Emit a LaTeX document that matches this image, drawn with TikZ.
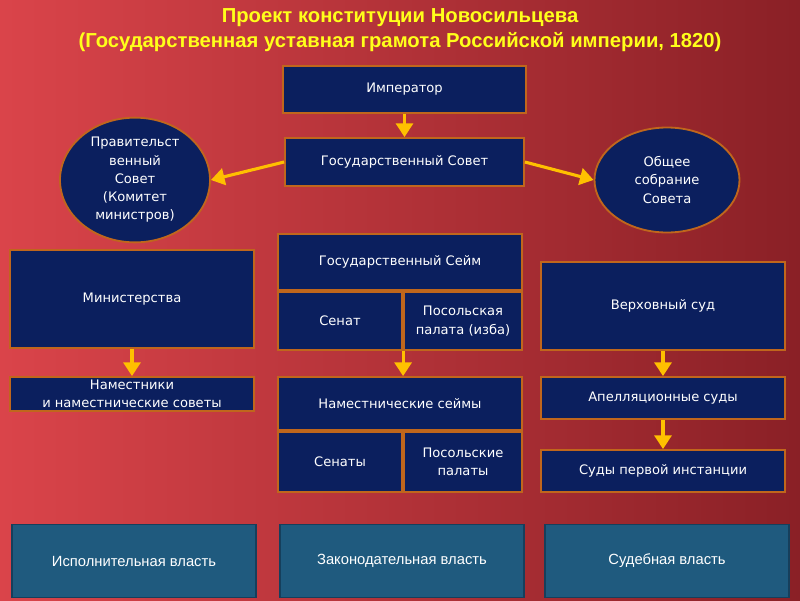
\documentclass[tikz,border=0pt]{standalone}
\usepackage{fontspec}
\setmainfont{Liberation Sans}
\newfontfamily\boxfont{DejaVu Sans}
\usetikzlibrary{arrows.meta,positioning,shapes.geometric,calc}
\definecolor{navy}{HTML}{0B1F5E}
\definecolor{rim}{HTML}{C0661C}
\definecolor{steel}{HTML}{1F5A7E}
\definecolor{steeldark}{HTML}{163F5C}
\definecolor{gold}{HTML}{FFC000}
\definecolor{titley}{HTML}{FFFF1A}
\definecolor{redlight}{HTML}{DA444A}
\definecolor{reddark}{HTML}{8A2026}
\newcommand{\pxu}{0.025cm}

\begin{document}
\begin{tikzpicture}[
  x=\pxu,y=-\pxu,
  font=\boxfont\fontsize{9.3}{13}\selectfont,
  box/.style 2 args={draw=rim,line width=1.3pt,fill=navy,text=white,align=center,
              inner sep=1pt,minimum width=#1*\pxu,minimum height=#2*\pxu},
  oval/.style 2 args={box={#1}{#2},ellipse},
  base/.style={draw=steeldark,line width=1pt,fill=steel,text=white,align=center,
              minimum width=244*\pxu,minimum height=73*\pxu,
              font=\rmfamily\fontsize{10.5}{13}\selectfont},
  ttl/.style={text=titley,font=\rmfamily\fontsize{14.4}{16}\bfseries\selectfont},
  ar/.style={-{Triangle[length=3.4mm,width=4.2mm]},line width=2.2pt,draw=gold},
]

% ---- Background
\shade[left color=redlight,right color=reddark] (0,0) rectangle (800,600);
\useasboundingbox (0,0) rectangle (800,600);

% ---- Title
\node[ttl] (t1) at (400,18) {Проект конституции Новосильцева};
\node[ttl] (t2) at (400,42) {(Государственная уставная грамота Российской империи, 1820)};

% ---- Top
\node[box={243}{47}] (emp) at (404.5,89.5) {Император};
\node[box={239}{48}] (gsov) at (404.5,162) {Государственный Совет};
\node[oval={150}{110}] (prav) at (135,180)
     {Правительст\\венный\\Совет\\(Комитет\\министров)};
\node[oval={145}{105}] (obsh) at (667,180) {Общее\\собрание\\Совета};

% ---- Executive
\node[box={244}{98}] (min) at (132,299) {Министерства};
\node[box={244}{34}] (nam) at (132,394) {Наместники\\и наместнические советы};

% ---- Legislative
\node[box={244}{56}] (seim) at (400,262) {Государственный Сейм};
\node[box={124}{58}] (sen) at (340,321) {Сенат};
\node[box={118}{58}] (pos) at (463,321) {Посольская\\палата (изба)};
\node[box={244}{53}] (nseim) at (400,403.5) {Наместнические сеймы};
\node[box={124}{60}] (sens) at (340,462) {Сенаты};
\node[box={118}{60}] (poss) at (463,462) {Посольские\\палаты};

% ---- Judicial
\node[box={244}{88}] (verh) at (663,306) {Верховный суд};
\node[box={244}{42}] (apel) at (663,398) {Апелляционные суды};
\node[box={244}{42}] (sud) at (663,471) {Суды первой инстанции};

% ---- Branches
\node[base] (isp) at (134,561) {Исполнительная власть};
\node[base] (zak) at (402,561) {Законодательная власть};
\node[base] (sudv) at (667,561) {Судебная власть};

% ---- Arrows
\draw[ar] (emp.south) -- (gsov.north);
\draw[ar] (gsov.west) -- (prav.east);
\draw[ar] (gsov.east) -- (obsh.west);
\draw[ar] (min.south) -- (nam.north);
\draw[ar] (pos.south west) -- (pos.south west |- nseim.north);
\draw[ar] (verh.south) -- (apel.north);
\draw[ar] (apel.south) -- (sud.north);

\end{tikzpicture}
\end{document}
